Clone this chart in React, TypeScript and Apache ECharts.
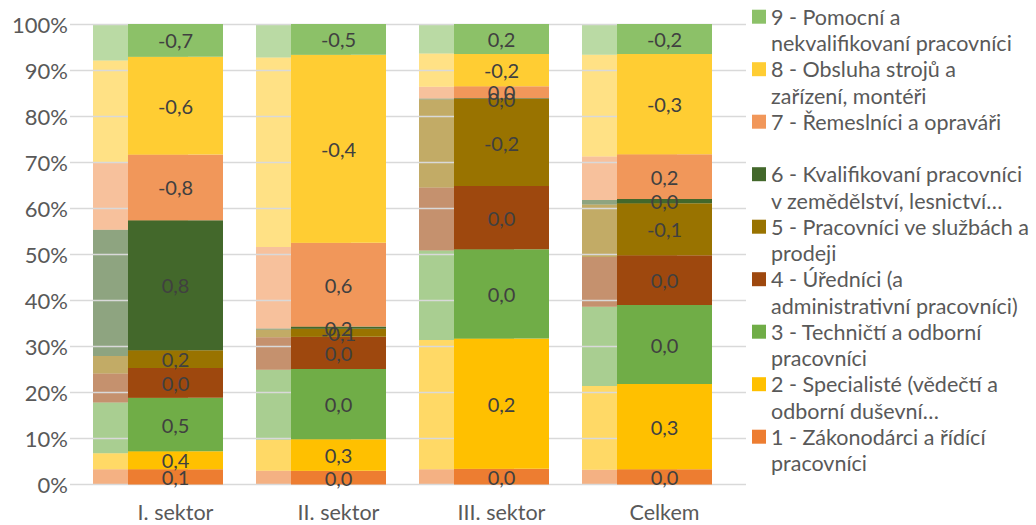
import React, { useEffect, useRef } from 'react';
import * as echarts from 'echarts';

const categories = ['I. sektor', 'II. sektor', 'III. sektor', 'Celkem'];

const seriesKeys = ['1', '2', '3', '4', '5', '6', '7', '8', '9'];

const legendLabels = [
  '1 - Zákonodárci a řídící\npracovníci',
  '2 - Specialisté (vědečtí a\nodborní duševní…',
  '3 - Techničtí a odborní\npracovníci',
  '4 - Úředníci (a\nadministrativní pracovníci)',
  '5 - Pracovníci ve službách a\nprodeji',
  '6 - Kvalifikovaní pracovníci\nv zemědělství, lesnictví…',
  '7 - Řemeslníci a opraváři',
  '8 - Obsluha strojů a\nzařízení, montéři',
  '9 - Pomocní a\nnekvalifikovaní pracovníci',
];

// current structure (%), one row per occupation group 1..9, columns = categories
const g1Current = [3.3, 3.0, 3.4, 3.3];
const g2Current = [3.9, 6.8, 28.3, 18.5];
const g3Current = [11.6, 15.3, 19.4, 17.2];
const g4Current = [6.5, 7.0, 13.7, 10.8];
const g5Current = [3.8, 1.7, 18.9, 11.3];
const g6Current = [28.2, 0.5, 0.2, 0.9];
const g7Current = [14.3, 18.2, 2.6, 9.7];
const g8Current = [21.2, 40.8, 7.0, 21.8];
const g9Current = [7.1, 6.7, 6.5, 6.5];

// previous structure (%), shown faded behind
const g1Previous = [3.3, 3.0, 3.3, 3.2];
const g2Previous = [3.5, 6.7, 28.1, 18.2];
const g3Previous = [11.0, 15.2, 19.4, 17.2];
const g4Previous = [6.3, 7.1, 13.7, 10.8];
const g5Previous = [3.8, 1.6, 19.1, 11.4];
const g6Previous = [27.4, 0.3, 0.2, 1.0];
const g7Previous = [14.7, 17.7, 2.6, 9.4];
const g8Previous = [22.1, 41.1, 7.2, 22.1];
const g9Previous = [7.9, 7.3, 6.4, 6.7];

// change in percentage points (data labels)
const g1Change = [0.1, 0.0, 0.0, 0.0];
const g2Change = [0.4, 0.3, 0.2, 0.3];
const g3Change = [0.5, 0.0, 0.0, 0.0];
const g4Change = [0.0, 0.0, 0.0, 0.0];
const g5Change = [0.2, -0.1, -0.2, -0.1];
const g6Change = [0.8, 0.2, 0.0, 0.0];
const g7Change = [-0.8, 0.6, 0.0, 0.2];
const g8Change = [-0.6, -0.4, -0.2, -0.3];
const g9Change = [-0.7, -0.5, 0.2, -0.2];

const yTicks = [0, 10, 20, 30, 40, 50, 60, 70, 80, 90, 100];

const current = [g1Current, g2Current, g3Current, g4Current, g5Current, g6Current, g7Current, g8Current, g9Current];
const previous = [g1Previous, g2Previous, g3Previous, g4Previous, g5Previous, g6Previous, g7Previous, g8Previous, g9Previous];
const changes = [g1Change, g2Change, g3Change, g4Change, g5Change, g6Change, g7Change, g8Change, g9Change];

const colors = ['#ED7D31', '#FFC000', '#70AD47', '#9E480E', '#997300', '#43682B', '#F1975A', '#FFCD33', '#8CC168'];

const FONT = 'Lato, "Noto Sans", sans-serif';
const TEXT_COLOR = '#595959';

const fmt = (v: number) => (v < 0 ? '-' : '') + Math.abs(v).toFixed(1).replace('.', ',');

const toShares = (rows: number[][]) => {
  const totals = categories.map((_, c) => rows.reduce((s, r) => s + r[c], 0));
  return rows.map((r) => r.map((v, c) => (v / totals[c]) * 100));
};

const LEGEND_X = 752;
const LEGEND_FIRST_CENTER = 16.7;
const LEGEND_STEP = 52.5;
const LEGEND_LINE = 26.5;

const buildLegend = () => {
  const order = seriesKeys.map((_, i) => i).reverse();
  const elements: any[] = [];
  order.forEach((gi, row) => {
    const cy = LEGEND_FIRST_CENTER + row * LEGEND_STEP;
    elements.push({
      type: 'rect',
      shape: { x: LEGEND_X, y: cy - 7, width: 14, height: 14 },
      style: { fill: colors[gi] },
      silent: true,
    });
    elements.push({
      type: 'text',
      x: LEGEND_X + 19,
      y: cy - LEGEND_LINE / 2,
      silent: true,
      style: {
        text: legendLabels[gi],
        fill: TEXT_COLOR,
        fontSize: 21.5,
        fontFamily: FONT,
        lineHeight: LEGEND_LINE,
        verticalAlign: 'top',
        align: 'left',
      },
    });
  });
  return elements;
};

export default function App() {
  const ref = useRef<HTMLDivElement>(null);

  useEffect(() => {
    if (!ref.current) return;
    const chart = echarts.init(ref.current, undefined, { renderer: 'svg' });
    const curShares = toShares(current);
    const prevShares = toShares(previous);

    const option: any = {
      animation: false,
      backgroundColor: '#ffffff',
      grid: [
        { left: 70, right: 290, top: 24, bottom: 40.5 },
        { left: 94, right: 290, top: 24, bottom: 40.5 },
        { left: 59, right: 325, top: 24, bottom: 40.5 },
      ],
      xAxis: [
        { gridIndex: 0, type: 'category', data: categories, show: false },
        {
          gridIndex: 1,
          type: 'category',
          data: categories,
          axisLine: { show: false },
          axisTick: { show: false },
          axisLabel: { color: TEXT_COLOR, fontSize: 21.5, fontFamily: FONT, margin: 16 },
        },
        { gridIndex: 2, type: 'category', data: categories, show: false },
      ],
      yAxis: [
        {
          gridIndex: 0,
          type: 'value',
          min: yTicks[0],
          max: yTicks[yTicks.length - 1],
          interval: yTicks[1] - yTicks[0],
          z: 3,
          axisLine: { show: false },
          axisTick: { show: false },
          axisLabel: { formatter: '{value}%', color: TEXT_COLOR, fontSize: 22, fontFamily: FONT, margin: 2 },
          splitLine: { lineStyle: { color: '#d9d9d9', width: 1.3 } },
        },
        { gridIndex: 1, type: 'value', min: 0, max: 100, show: false },
        { gridIndex: 2, type: 'value', min: 0, max: 100, show: false },
      ],
      graphic: { elements: buildLegend() },
      series: [
        ...prevShares.map((vals, i) => ({
          name: 'prev-' + seriesKeys[i],
          type: 'bar',
          stack: 'prev',
          xAxisIndex: 2,
          yAxisIndex: 2,
          barWidth: 95,
          z: 2,
          silent: true,
          itemStyle: { color: colors[i], opacity: 0.6 },
          data: vals,
        })),
        ...curShares.map((vals, i) => ({
          name: seriesKeys[i],
          type: 'bar',
          stack: 'cur',
          xAxisIndex: 1,
          yAxisIndex: 1,
          barWidth: 95,
          z: 5,
          itemStyle: { color: colors[i] },
          label: {
            show: true,
            position: 'inside',
            color: '#404040',
            fontSize: 20,
            fontFamily: FONT,
            formatter: (p: any) => fmt(changes[i][p.dataIndex]),
          },
          data: vals,
        })),
      ],
    };
    chart.setOption(option);
    return () => chart.dispose();
  }, []);

  return (
    <div
      ref={ref}
      style={{ position: 'fixed', left: 0, top: 0, width: 1036, height: 525, background: '#fff' }}
    />
  );
}
